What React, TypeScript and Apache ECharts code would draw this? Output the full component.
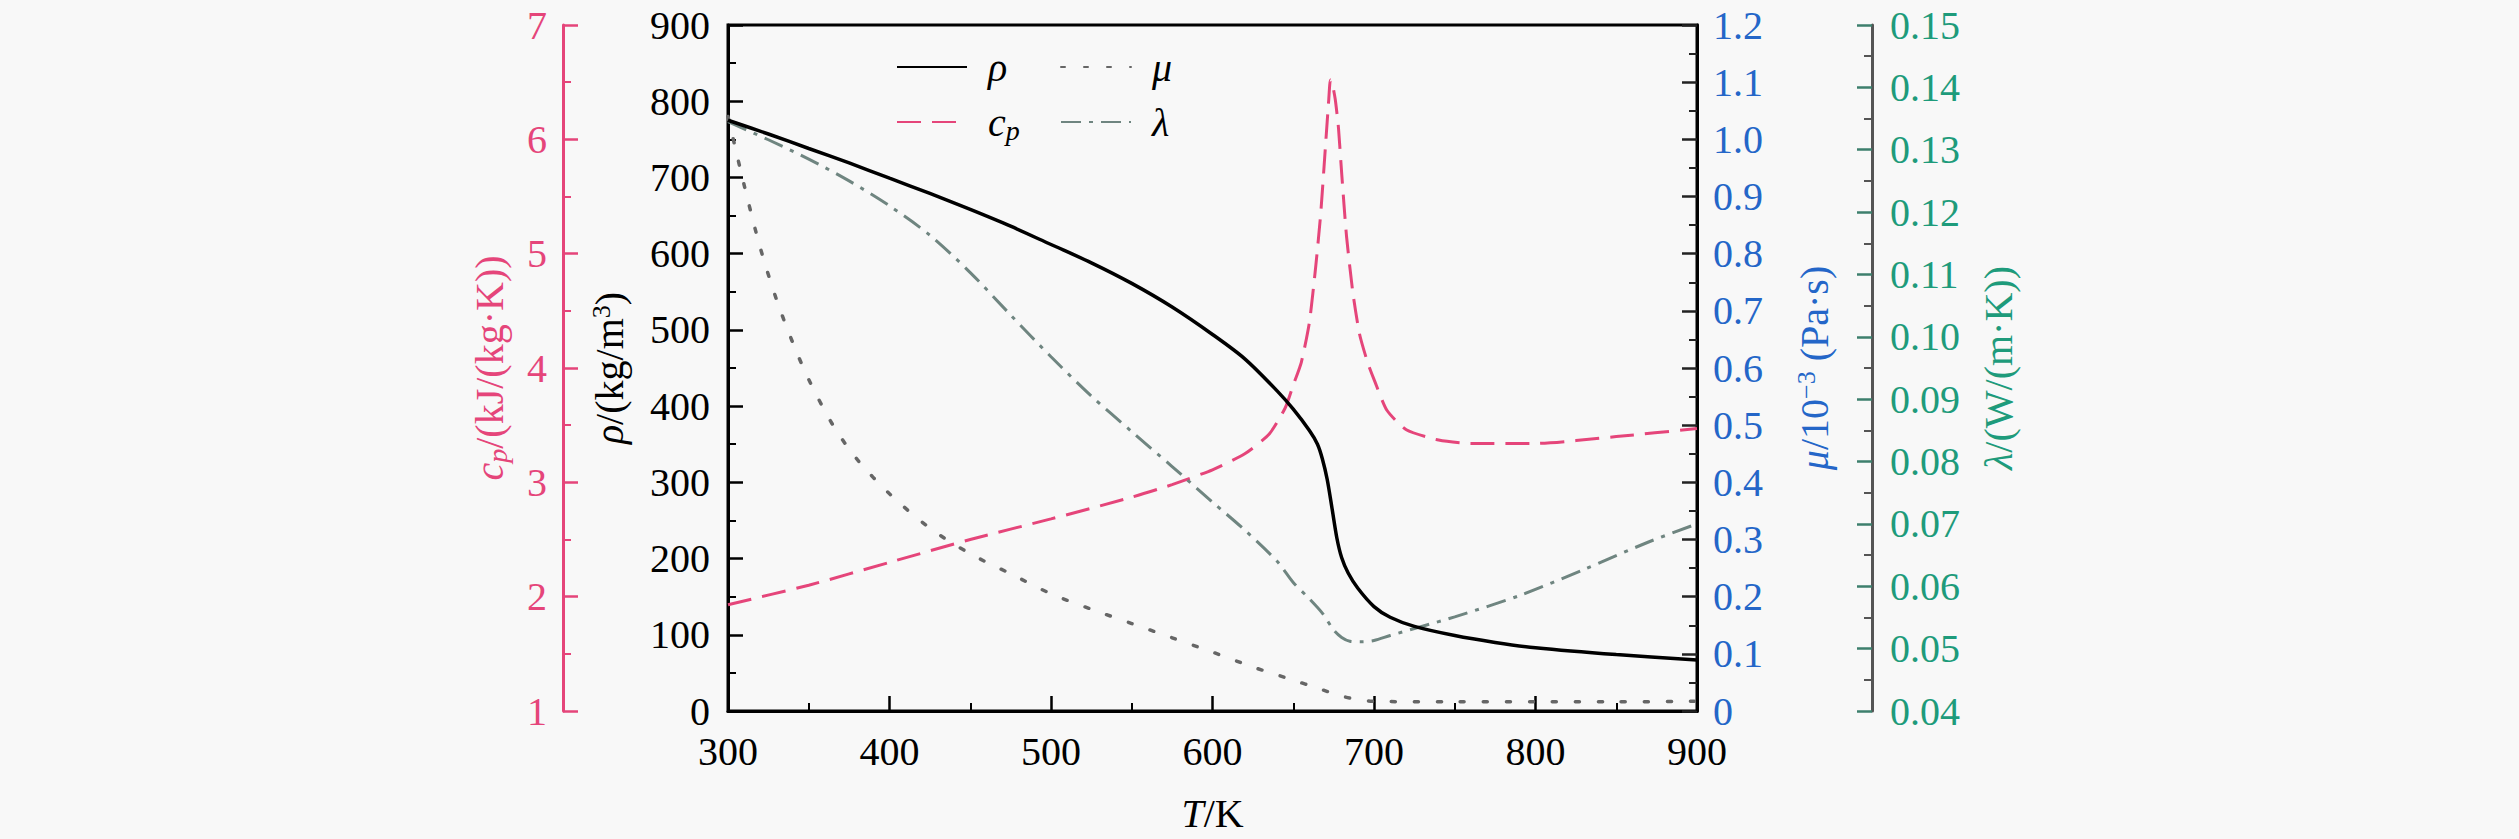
import React, { useEffect, useRef } from 'react';
import * as echarts from 'echarts';

// ---- data ----
const T_RHO = [300, 325, 350, 375, 400, 425, 450, 475, 500, 525, 550, 575, 600, 620, 640, 650, 660, 665, 668, 671, 674, 677, 680, 684, 690, 700, 710, 725, 750, 775, 800, 850, 900];
const RHO = [775, 757, 738, 719, 699, 679, 658, 636, 612, 588, 561, 530, 494, 462, 420, 396, 368, 350, 331, 304, 266, 227, 201, 181, 161, 137, 123, 111, 99, 90, 83, 74, 67];

const T_CP = [300, 350, 400, 450, 500, 550, 575, 600, 620, 635, 645, 650, 655, 660, 664, 667, 670, 672, 673, 674, 676, 678, 680, 683, 687, 691, 696, 700, 708, 720, 740, 760, 800, 850, 900];
const CP = [1.93, 2.1, 2.3, 2.5, 2.68, 2.87, 2.98, 3.11, 3.25, 3.42, 3.65, 3.85, 4.05, 4.4, 4.9, 5.35, 5.95, 6.35, 6.52, 6.5, 6.35, 6.1, 5.7, 5.15, 4.65, 4.3, 4.05, 3.9, 3.63, 3.46, 3.37, 3.34, 3.34, 3.4, 3.47];

const T_MU = [300, 310, 320, 330, 340, 350, 365, 380, 400, 425, 450, 475, 500, 525, 550, 575, 600, 625, 650, 665, 680, 690, 700, 750, 800, 850, 900];
const MU = [1.04, 0.92, 0.81, 0.72, 0.645, 0.58, 0.5, 0.44, 0.38, 0.32, 0.275, 0.24, 0.205, 0.178, 0.153, 0.128, 0.103, 0.077, 0.054, 0.04, 0.026, 0.02, 0.017, 0.016, 0.016, 0.016, 0.017];

const T_LAMBDA = [300, 325, 350, 375, 400, 425, 450, 475, 500, 525, 550, 575, 600, 620, 640, 650, 660, 668, 675, 680, 685, 693, 700, 710, 730, 750, 790, 830, 870, 900];
const LAMBDA = [0.1345, 0.1316, 0.1285, 0.125, 0.121, 0.1163, 0.1103, 0.1035, 0.0968, 0.0905, 0.0848, 0.0792, 0.0735, 0.069, 0.064, 0.0606, 0.058, 0.0557, 0.053, 0.0518, 0.0512, 0.0511, 0.0513, 0.0521, 0.0536, 0.0551, 0.0585, 0.0627, 0.0671, 0.07];

const FONT = 'Liberation Serif';
const PINK = '#e5457a';
const BLUE = '#2466c8';
const GREEN = '#1e9b7b';
const LAMBDA_LINE = '#6f8580';
const BG = '#f8f8f8';
const FS = 40;

const zip = (xs: number[], ys: number[]) => xs.map((x, i) => [x, ys[i]]);

const rich = (color: string) => ({
  a: { color, fontFamily: FONT, fontSize: FS },
  n: { color, fontFamily: FONT, fontSize: FS },
  i: { color, fontFamily: FONT, fontSize: FS, fontStyle: 'italic' },
  sub: { color, fontFamily: FONT, fontSize: 28, fontStyle: 'italic', padding: [16, 0, 0, 0] },
  sup: { color, fontFamily: FONT, fontSize: 26, padding: [0, 0, 16, 0] },
});

const tick = (color: string) => ({
  show: true,
  inside: true,
  length: 15,
  lineStyle: { color, width: 2.5 },
});
const minor = (color: string) => ({
  show: true,
  splitNumber: 2,
  length: 8,
  lineStyle: { color, width: 2 },
});
const label = (color: string, margin: number, fmt: (v: number) => string) => ({
  color,
  fontFamily: FONT,
  fontSize: FS,
  margin,
  formatter: (v: number) => '{a|' + fmt(v) + '}',
  rich: rich(color),
});

export default function App() {
  const ref = useRef<HTMLDivElement>(null);
  useEffect(() => {
    const chart = echarts.init(ref.current!, null, { renderer: 'svg' });
    const legendCommon = {
      orient: 'vertical',
      top: 42,
      itemWidth: 70,
      itemHeight: 20,
      itemGap: 15,
      selectedMode: false,
      itemStyle: { opacity: 0, borderWidth: 0 },
      formatter: (name: string) => (name === 'cp' ? '{i|c}{sub|p}' : '{i|' + name + '}'),
      textStyle: {
        fontFamily: FONT,
        fontSize: FS,
        lineHeight: 40,
        padding: [0, 0, 0, 16],
        rich: rich('#000'),
      },
    };
    const option: any = {
      animation: false,
      backgroundColor: BG,
      textStyle: { fontFamily: FONT, fontSize: FS },
      grid: {
        left: 728,
        right: 822,
        top: 25,
        bottom: 128,
        show: true,
        borderColor: '#000',
        borderWidth: 3,
        backgroundColor: 'transparent',
        outerBoundsMode: 'none',
      },
      legend: [
        { ...legendCommon, left: 891, data: ['ρ', 'cp'] },
        { ...legendCommon, left: 1055, data: ['μ', 'λ'] },
      ],
      xAxis: {
        type: 'value',
        min: 300,
        max: 900,
        interval: 100,
        name: '{i|T}{n|/K}',
        nameLocation: 'middle',
        nameGap: 82,
        nameTextStyle: { rich: rich('#000') },
        axisLine: { onZero: false, lineStyle: { color: '#000', width: 3 } },
        axisTick: tick('#000'),
        minorTick: minor('#000'),
        axisLabel: label('#000', 20, (v) => String(v)),
        splitLine: { show: false },
      },
      yAxis: [
        {
          type: 'value',
          position: 'left',
          min: 0,
          max: 900,
          interval: 100,
          name: '{i|ρ}{n|/(kg/m}{sup|3}{n|)}',
          nameLocation: 'middle',
          nameGap: 98,
          nameTextStyle: { rich: rich('#000') },
          axisLine: { show: true, onZero: false, lineStyle: { color: '#000', width: 3 } },
          axisTick: tick('#000'),
          minorTick: minor('#000'),
          axisLabel: label('#000', 18, (v) => String(v)),
          splitLine: { show: false },
        },
        {
          type: 'value',
          position: 'left',
          offset: 165,
          min: 1,
          max: 7,
          interval: 1,
          name: '{i|c}{sub|p}{n|/(kJ/(kg·K))}',
          nameLocation: 'middle',
          nameGap: 52,
          nameTextStyle: { rich: rich(PINK) },
          axisLine: { show: true, onZero: false, lineStyle: { color: PINK, width: 3 } },
          axisTick: tick(PINK),
          minorTick: minor(PINK),
          axisLabel: label(PINK, 16, (v) => String(v)),
          splitLine: { show: false },
        },
        {
          type: 'value',
          position: 'right',
          min: 0,
          max: 1.2,
          interval: 0.1,
          name: '{i|μ}{n|/10}{sup|−3}{n| (Pa·s)}',
          nameLocation: 'middle',
          nameGap: 96,
          nameTextStyle: { rich: rich(BLUE) },
          axisLine: { show: true, onZero: false, lineStyle: { color: '#000', width: 3 } },
          axisTick: tick('#222'),
          minorTick: minor('#222'),
          axisLabel: label(BLUE, 16, (v) => (v === 0 ? '0' : v.toFixed(1))),
          splitLine: { show: false },
        },
        {
          type: 'value',
          position: 'right',
          offset: 175,
          min: 0.04,
          max: 0.15,
          interval: 0.01,
          name: '{i|λ}{n|/(W/(m·K))}',
          nameLocation: 'middle',
          nameGap: 106,
          nameTextStyle: { rich: rich(GREEN) },
          axisLine: { show: true, onZero: false, lineStyle: { color: '#555', width: 3 } },
          axisTick: tick('#3d7f6d'),
          minorTick: minor('#555'),
          axisLabel: label(GREEN, 18, (v) => v.toFixed(2)),
          splitLine: { show: false },
        },
      ],
      series: [
        {
          name: 'cp',
          type: 'line',
          yAxisIndex: 1,
          data: zip(T_CP, CP),
          symbol: 'none',
          smooth: 0.2,
          lineStyle: { color: PINK, width: 3, type: [24, 11] },
          itemStyle: { color: PINK },
          z: 2,
        },
        {
          name: 'μ',
          type: 'line',
          yAxisIndex: 2,
          data: zip(T_MU, MU),
          symbol: 'none',
          smooth: 0.3,
          lineStyle: { color: '#666', width: 3.5, type: [4, 19], cap: 'round' },
          itemStyle: { color: '#666' },
          z: 2,
        },
        {
          name: 'λ',
          type: 'line',
          yAxisIndex: 3,
          data: zip(T_LAMBDA, LAMBDA),
          symbol: 'none',
          smooth: 0.3,
          lineStyle: { color: LAMBDA_LINE, width: 3, type: [20, 8, 4, 8] },
          itemStyle: { color: LAMBDA_LINE },
          z: 2,
        },
        {
          name: 'ρ',
          type: 'line',
          yAxisIndex: 0,
          data: zip(T_RHO, RHO),
          symbol: 'none',
          smooth: 0.3,
          lineStyle: { color: '#000', width: 3.5 },
          itemStyle: { color: '#000' },
          z: 3,
        },
      ],
    };
    chart.setOption(option);
    return () => chart.dispose();
  }, []);
  return (
    <div
      ref={ref}
      style={{ position: 'fixed', left: 0, top: 0, width: 2519, height: 839, background: BG }}
    />
  );
}
